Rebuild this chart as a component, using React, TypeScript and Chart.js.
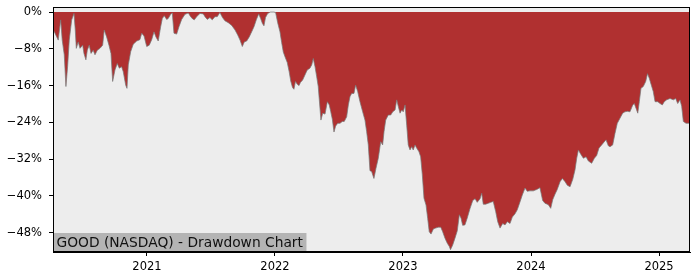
import React, { useEffect, useRef } from 'react';
import { Chart, registerables } from 'chart.js';

Chart.register(...registerables);

// Decimal-year dates of each observation
const dates = [
  2020.266, 2020.276, 2020.295, 2020.307, 2020.326, 2020.338, 2020.354, 2020.367, 2020.380, 2020.393,
  2020.412, 2020.430, 2020.440, 2020.448, 2020.463, 2020.477, 2020.498, 2020.508, 2020.523, 2020.534,
  2020.549, 2020.563, 2020.580, 2020.594, 2020.612, 2020.633, 2020.654, 2020.666, 2020.685, 2020.703,
  2020.719, 2020.732, 2020.750, 2020.768, 2020.784, 2020.802, 2020.815, 2020.834, 2020.844, 2020.854,
  2020.873, 2020.893, 2020.920, 2020.945, 2020.959, 2020.977, 2020.998, 2021.018, 2021.037, 2021.055,
  2021.070, 2021.088, 2021.107, 2021.120, 2021.135, 2021.154, 2021.166, 2021.185, 2021.198, 2021.211,
  2021.232, 2021.250, 2021.271, 2021.297, 2021.323, 2021.341, 2021.357, 2021.370, 2021.388, 2021.414,
  2021.440, 2021.453, 2021.471, 2021.492, 2021.510, 2021.531, 2021.549, 2021.570, 2021.590, 2021.609,
  2021.635, 2021.662, 2021.688, 2021.709, 2021.727, 2021.745, 2021.760, 2021.779, 2021.799, 2021.818,
  2021.836, 2021.855, 2021.873, 2021.888, 2021.902, 2021.914, 2021.926, 2021.943, 2021.965, 2021.992,
  2022.005, 2022.021, 2022.039, 2022.052, 2022.065, 2022.078, 2022.096, 2022.111, 2022.123, 2022.137,
  2022.148, 2022.160, 2022.174, 2022.188, 2022.199, 2022.216, 2022.234, 2022.252, 2022.273, 2022.287,
  2022.299, 2022.313, 2022.326, 2022.338, 2022.346, 2022.359, 2022.373, 2022.391, 2022.409, 2022.424,
  2022.435, 2022.448, 2022.461, 2022.474, 2022.490, 2022.508, 2022.526, 2022.541, 2022.560, 2022.573,
  2022.586, 2022.599, 2022.617, 2022.630, 2022.646, 2022.664, 2022.685, 2022.703, 2022.716, 2022.729,
  2022.742, 2022.755, 2022.773, 2022.789, 2022.807, 2022.826, 2022.841, 2022.852, 2022.865, 2022.885,
  2022.904, 2022.920, 2022.938, 2022.951, 2022.963, 2022.977, 2022.990, 2023.002, 2023.016, 2023.029,
  2023.041, 2023.055, 2023.068, 2023.080, 2023.094, 2023.107, 2023.125, 2023.138, 2023.151, 2023.164,
  2023.180, 2023.193, 2023.205, 2023.219, 2023.237, 2023.255, 2023.276, 2023.295, 2023.310, 2023.328,
  2023.346, 2023.362, 2023.371, 2023.388, 2023.406, 2023.424, 2023.440, 2023.453, 2023.466, 2023.484,
  2023.502, 2023.523, 2023.545, 2023.563, 2023.580, 2023.602, 2023.615, 2023.627, 2023.646, 2023.666,
  2023.685, 2023.705, 2023.724, 2023.740, 2023.758, 2023.779, 2023.797, 2023.815, 2023.836, 2023.854,
  2023.875, 2023.893, 2023.914, 2023.932, 2023.953, 2023.971, 2023.992, 2024.018, 2024.045, 2024.070,
  2024.091, 2024.109, 2024.135, 2024.154, 2024.170, 2024.188, 2024.205, 2024.227, 2024.245, 2024.266,
  2024.284, 2024.305, 2024.326, 2024.344, 2024.357, 2024.370, 2024.388, 2024.409, 2024.430, 2024.448,
  2024.474, 2024.495, 2024.513, 2024.531, 2024.552, 2024.570, 2024.586, 2024.604, 2024.617, 2024.638,
  2024.656, 2024.674, 2024.695, 2024.716, 2024.734, 2024.752, 2024.773, 2024.795, 2024.807, 2024.820,
  2024.834, 2024.846, 2024.859, 2024.877, 2024.896, 2024.910, 2024.924, 2024.940, 2024.955, 2024.969,
  2024.990, 2025.008, 2025.026, 2025.041, 2025.060, 2025.086, 2025.112, 2025.130, 2025.146, 2025.164,
  2025.177, 2025.190, 2025.211, 2025.229, 2025.242,
];

// Drawdown from running peak, in percent
const drawdown = [
  -4.0, -4.3, -5.4, -6.1, -1.7, -6.1, -9.3, -16.2, -11.9, -6.1,
  -1.7, -0.3, -3.9, -7.9, -6.5, -7.9, -7.2, -9.0, -10.4, -8.3,
  -7.2, -9.0, -8.3, -9.3, -8.3, -7.9, -7.2, -3.9, -5.4, -7.2,
  -9.0, -15.1, -12.6, -11.2, -12.2, -11.9, -13.0, -15.9, -16.6, -11.5,
  -8.6, -7.0, -6.3, -6.0, -4.6, -5.2, -7.5, -7.2, -6.0, -4.3,
  -5.4, -6.3, -3.2, -1.4, -0.8, -1.6, -1.4, -0.5, -0.2, -4.6,
  -4.8, -3.2, -1.6, -0.5, -0.2, -1.0, -1.5, -1.7, -1.0, -0.3,
  -0.4, -1.0, -1.6, -1.2, -1.7, -1.0, -1.0, -0.1, -1.2, -1.9,
  -2.3, -2.9, -3.9, -5.0, -6.1, -7.5, -6.5, -6.3, -5.4, -4.3,
  -3.2, -1.6, -0.4, -1.4, -2.5, -3.0, -1.2, -0.3, 0.0, 0.0,
  -0.1, -2.3, -4.3, -6.6, -8.7, -9.7, -11.0, -13.0, -15.0, -16.4,
  -16.8, -15.1, -15.7, -16.0, -15.3, -14.8, -13.7, -12.6, -12.2, -11.5,
  -10.1, -11.9, -14.1, -16.2, -19.0, -23.5, -22.0, -22.2, -19.5, -20.2,
  -21.6, -23.3, -26.1, -24.8, -24.2, -24.2, -23.8, -23.8, -22.8, -20.2,
  -18.4, -17.7, -17.7, -15.9, -17.3, -19.5, -21.7, -23.5, -26.0, -28.9,
  -34.5, -34.7, -36.2, -34.0, -31.8, -28.2, -28.9, -26.0, -23.5, -22.4,
  -22.4, -21.7, -21.3, -19.1, -20.5, -22.0, -21.3, -21.7, -20.2, -24.6,
  -28.9, -30.0, -29.3, -30.0, -28.9, -29.6, -30.4, -31.5, -35.4, -40.5,
  -42.0, -44.9, -47.8, -48.3, -47.2, -47.0, -46.8, -46.8, -47.8, -49.2,
  -50.3, -51.0, -51.7, -50.7, -49.2, -47.6, -44.1, -44.8, -46.4, -46.3,
  -44.8, -42.8, -41.0, -40.6, -41.4, -40.6, -39.4, -41.8, -41.8, -41.6,
  -41.4, -41.2, -43.4, -45.6, -47.0, -46.0, -46.3, -45.6, -46.0, -44.6,
  -43.9, -43.0, -41.3, -39.8, -38.3, -39.0, -38.9, -38.9, -38.6, -38.2,
  -41.0, -41.6, -41.9, -42.7, -40.8, -39.6, -38.6, -36.9, -36.2, -36.9,
  -37.7, -38.0, -36.4, -34.3, -31.8, -30.0, -30.9, -31.8, -31.5, -32.4,
  -32.9, -31.8, -31.2, -29.6, -28.9, -28.3, -27.8, -29.1, -29.3, -28.9,
  -26.4, -24.2, -23.1, -22.0, -21.7, -21.6, -21.7, -20.2, -19.9, -20.9,
  -22.0, -19.5, -16.6, -16.2, -15.1, -13.4, -14.4, -15.9, -17.3, -19.5,
  -19.5, -19.9, -20.2, -19.5, -19.1, -18.8, -19.1, -18.8, -19.9, -19.1,
  -20.5, -23.8, -24.2, -24.2, -24.2,
];

const yearTicks = [2021, 2022, 2023, 2024, 2025];
const pctTicks = [0, -8, -16, -24, -32, -40, -48];
const chartLabel = 'GOOD (NASDAQ) - Drawdown Chart';

const FONT = '"DejaVu Sans", sans-serif';

const framePlugin = {
  id: 'frameAndLabel',
  beforeDatasetsDraw(chart: any) {
    const { ctx, chartArea: a } = chart;
    ctx.save();
    ctx.fillStyle = '#ededed';
    ctx.fillRect(a.left, a.top, a.right - a.left, a.bottom - a.top);
    ctx.restore();
  },
  afterDatasetsDraw(chart: any) {
    const { ctx, chartArea: a } = chart;
    ctx.save();
    ctx.font = '13.8px ' + FONT;
    const w = ctx.measureText(chartLabel).width;
    const boxH = 19;
    ctx.fillStyle = '#b4b4b4';
    ctx.fillRect(a.left, a.bottom - boxH, w + 7, boxH);
    ctx.fillStyle = '#111';
    ctx.textBaseline = 'middle';
    ctx.textAlign = 'left';
    ctx.fillText(chartLabel, a.left + 3.5, a.bottom - boxH / 2 + 0.5);
    ctx.strokeStyle = '#000';
    ctx.lineWidth = 1;
    ctx.strokeRect(a.left + 0.5, a.top + 0.5, a.right - a.left - 1, a.bottom - a.top - 1);
    ctx.restore();
  },
};

export default function App() {
  const ref = useRef<HTMLCanvasElement>(null);

  useEffect(() => {
    if (!ref.current) return;
    const points = dates.map((d, i) => ({ x: d, y: drawdown[i] }));
    const chart = new Chart(ref.current, {
      type: 'line',
      data: {
        datasets: [
          {
            data: points,
            fill: 'origin',
            backgroundColor: '#b03030',
            borderColor: 'rgba(120,120,120,0.9)',
            borderWidth: 0.8,
            pointRadius: 0,
            tension: 0,
          },
        ],
      },
      options: {
        animation: false,
        responsive: false,
        maintainAspectRatio: false,
        layout: { padding: { left: 0, right: 10, top: 7, bottom: 0 } },
        plugins: { legend: { display: false }, tooltip: { enabled: false } },
        scales: {
          x: {
            type: 'linear',
            min: 2020.266,
            max: 2025.242,
            afterBuildTicks: (s: any) => {
              s.ticks = yearTicks.map((v) => ({ value: v }));
            },
            afterFit: (s: any) => {
              s.height = 28;
              s.paddingLeft = 0;
              s.paddingRight = 0;
            },
            grid: { drawOnChartArea: false, drawTicks: true, tickLength: 4, color: '#000' },
            border: { display: true, color: '#000', width: 1 },
            ticks: {
              color: '#000',
              font: { family: FONT, size: 11.5 },
              padding: 4,
              maxRotation: 0,
              autoSkip: false,
              callback: (v: any) => String(v),
            },
          },
          y: {
            min: -52.2,
            max: 1.1,
            afterBuildTicks: (s: any) => {
              s.ticks = pctTicks.map((v) => ({ value: v }));
            },
            afterFit: (s: any) => {
              s.width = 53;
              s.paddingTop = 0;
              s.paddingBottom = 0;
            },
            grid: { drawOnChartArea: false, drawTicks: true, tickLength: 4, color: '#000' },
            border: { display: true, color: '#000', width: 1 },
            ticks: {
              color: '#000',
              font: { family: FONT, size: 11.5 },
              padding: 7,
              autoSkip: false,
              callback: (v: any) => (v < 0 ? '\u2212' : '') + Math.abs(v) + '%',
            },
          },
        },
      },
      plugins: [framePlugin],
    });
    return () => chart.destroy();
  }, []);

  return (
    <div style={{ position: 'absolute', left: 0, top: 0, width: 700, height: 280, background: '#fff' }}>
      <canvas ref={ref} width={700} height={280} style={{ width: 700, height: 280 }} />
    </div>
  );
}
